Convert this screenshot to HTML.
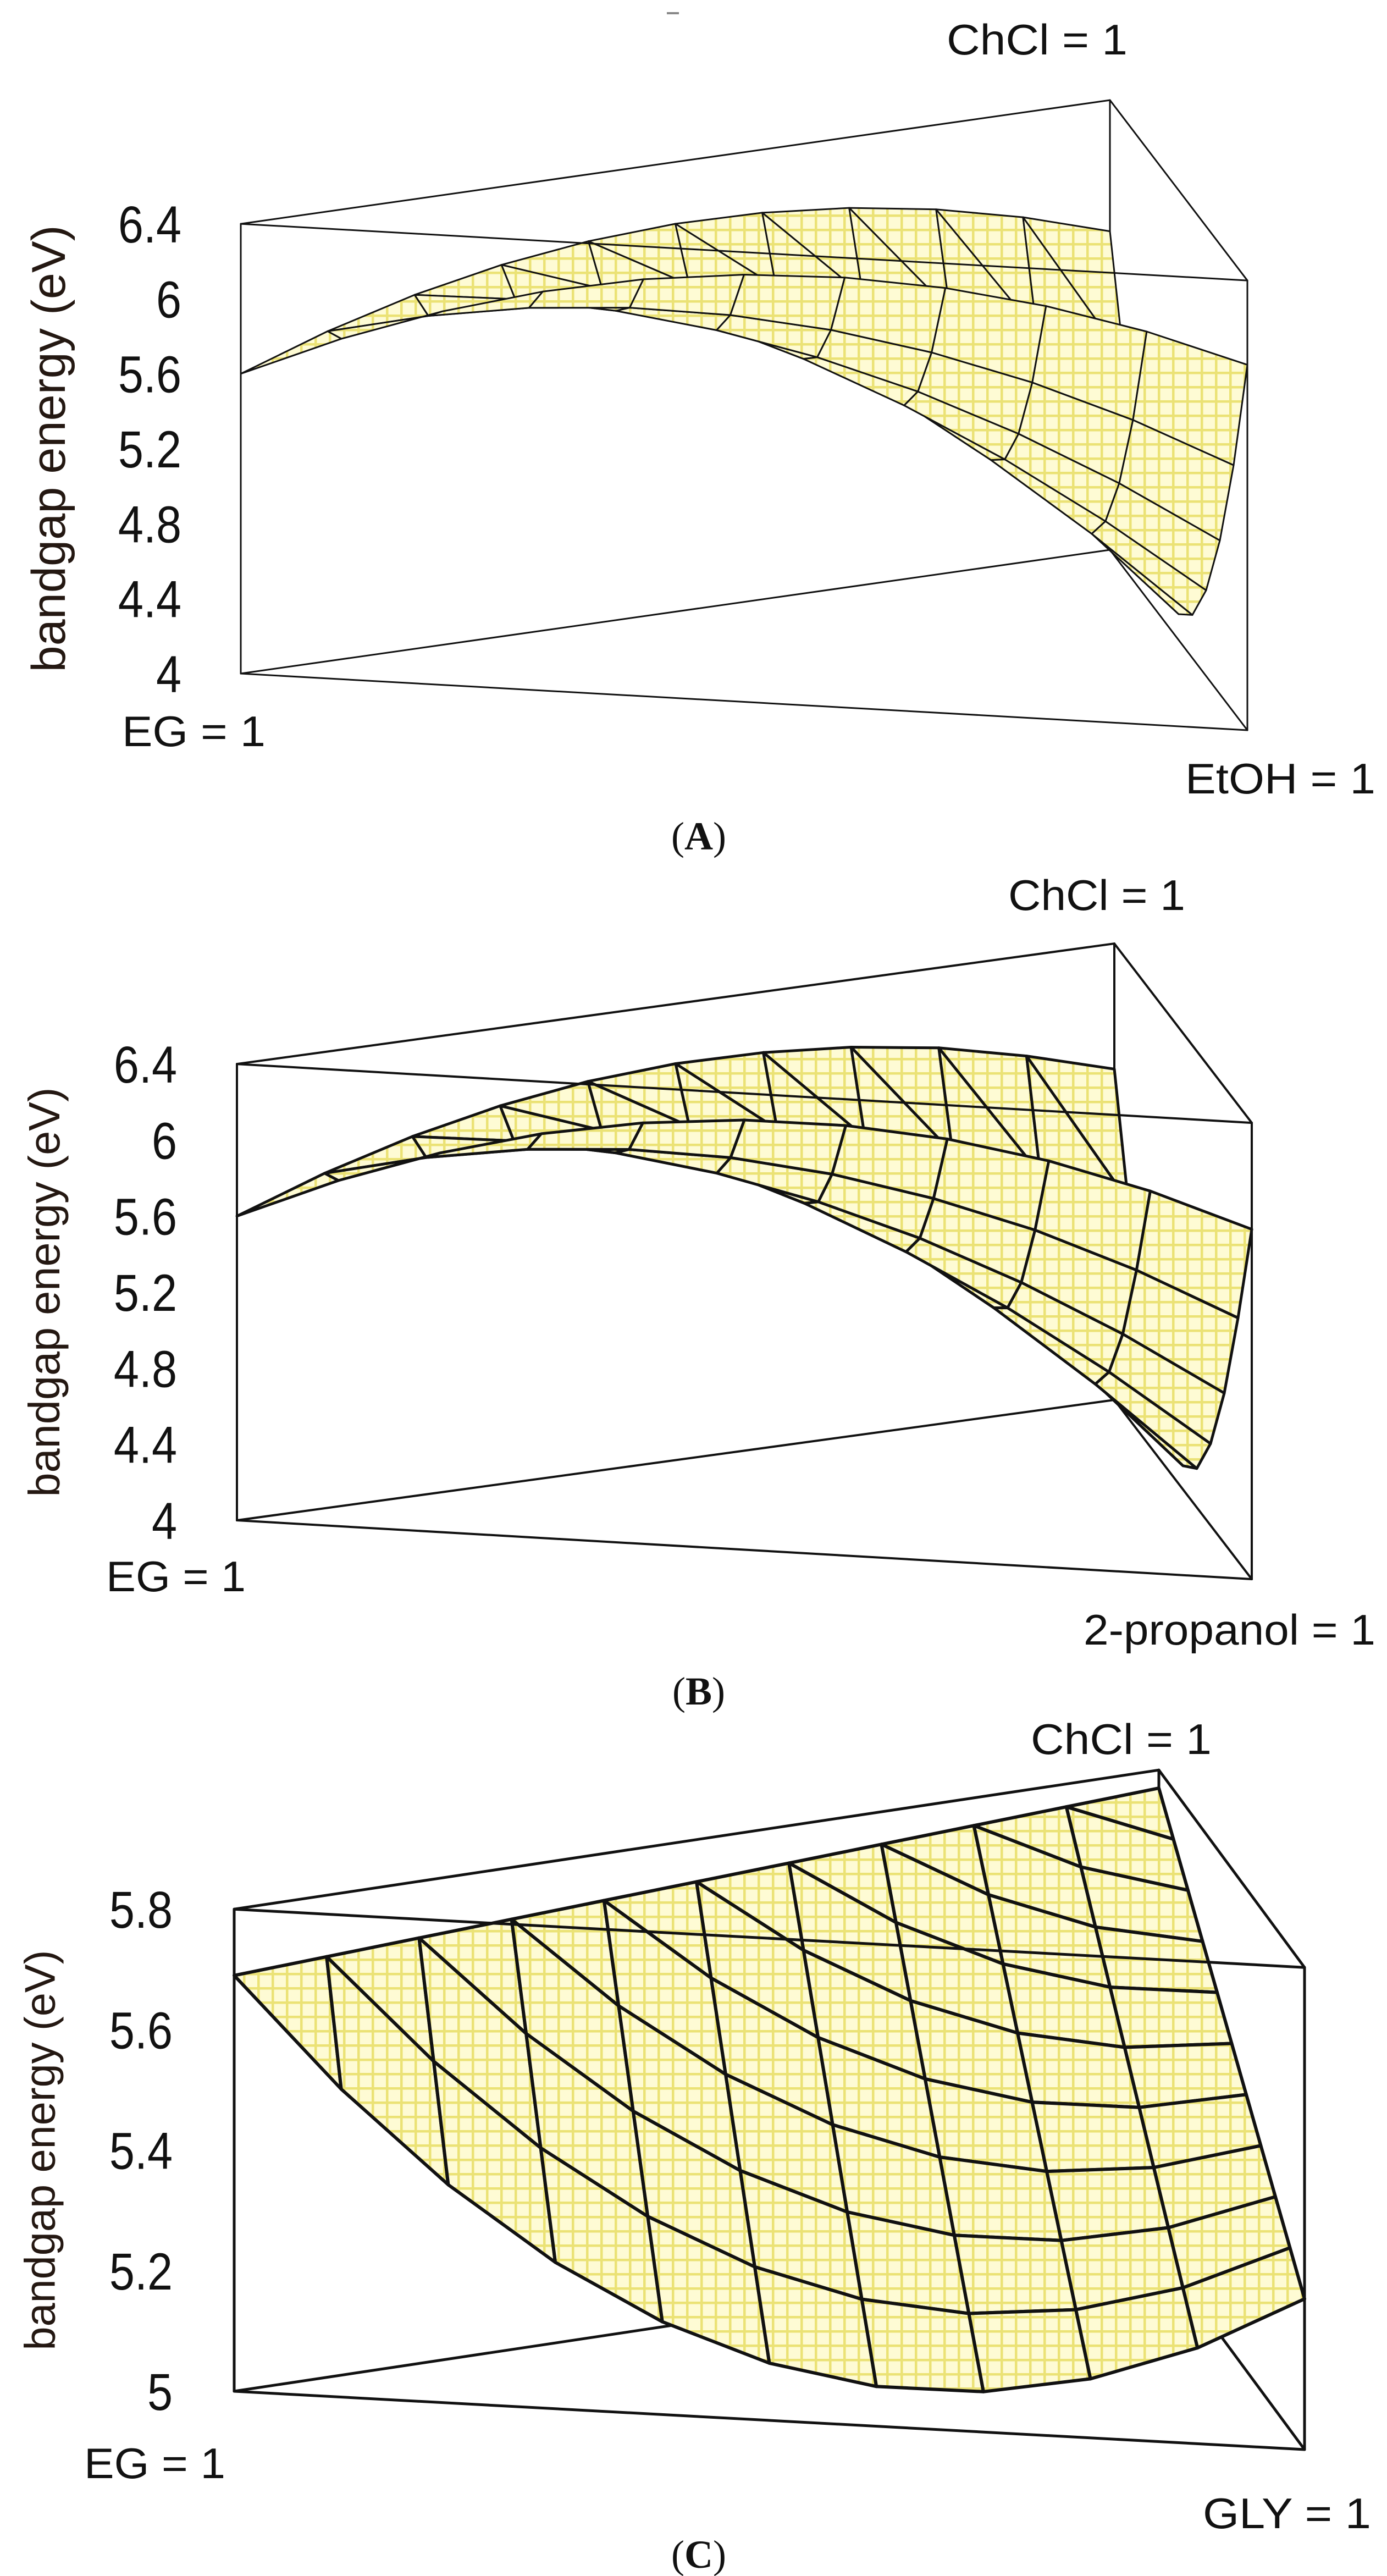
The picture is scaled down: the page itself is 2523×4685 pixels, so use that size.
<!DOCTYPE html>
<html><head><meta charset="utf-8">
<style>
html,body{margin:0;padding:0;background:#fff;}
svg{display:block;}
</style></head>
<body>
<svg id="chart" width="2523" height="4685" viewBox="0 0 2523 4685" xmlns="http://www.w3.org/2000/svg">
<defs>
<pattern id="pat" width="26" height="26" patternUnits="userSpaceOnUse">
<rect width="26" height="26" fill="#fefbd4"/>
<path d="M0 2 H26 M2 0 V26" stroke="#ebe275" stroke-width="5"/>
</pattern>
</defs>
<line x1="1213" y1="24" x2="1235" y2="24" stroke="#888" stroke-width="4"/>
<g id="panels"></g>
</svg>
<script>
// Panel A data: rows by ChCl fraction (0..1 step .1), entries by EtOH fraction (0..1-c step .1)
const ticksA = [4, 4.4, 4.8, 5.2, 5.6, 6, 6.4];
const tickLabelsA = ["4", "4.4", "4.8", "5.2", "5.6", "6", "6.4"];
const zA = [
 [5.600,5.817,5.993,6.129,6.225,6.280,6.295,6.269,6.203,6.097,5.950],
 [5.761,5.873,5.946,5.977,5.968,5.919,5.829,5.699,5.529,5.318],
 [5.889,5.896,5.864,5.791,5.677,5.524,5.329,5.095,4.820],
 [5.983,5.886,5.749,5.572,5.354,5.096,4.796,4.458],
 [6.043,5.842,5.601,5.319,4.996,4.633,4.230],
 [6.070,5.764,5.418,5.032,4.605,4.138],
 [6.063,5.653,5.203,4.712,4.180],
 [6.023,5.508,4.953,4.358],
 [5.949,5.329,4.670],
 [5.841,5.118],
 [5.700]
];
// Panel B data: rows by ChCl fraction, entries by 2-propanol fraction
const ticksB = [4, 4.4, 4.8, 5.2, 5.6, 6, 6.4];
const tickLabelsB = ["4", "4.4", "4.8", "5.2", "5.6", "6", "6.4"];
const zB = [
 [5.600,5.818,5.994,6.126,6.214,6.260,6.262,6.222,6.138,6.010,5.840],
 [5.762,5.876,5.950,5.980,5.968,5.912,5.815,5.680,5.500,5.280],
 [5.892,5.900,5.868,5.792,5.672,5.512,5.310,5.070,4.790],
 [5.990,5.892,5.752,5.570,5.346,5.082,4.776,4.430],
 [6.055,5.850,5.604,5.316,4.988,4.618,4.205],
 [6.085,5.772,5.422,5.030,4.598,4.125],
 [6.080,5.665,5.210,4.715,4.180],
 [6.045,5.520,4.962,4.368],
 [5.978,5.345,4.690],
 [5.872,5.142],
 [5.740]
];
// Panel C data: rows by ChCl fraction, entries by GLY fraction
const ticksC = [5, 5.2, 5.4, 5.6, 5.8];
const tickLabelsC = ["5", "5.2", "5.4", "5.6", "5.8"];
const zC = [
 [5.690,5.511,5.362,5.243,5.154,5.095,5.066,5.067,5.098,5.159,5.250],
 [5.698,5.534,5.400,5.296,5.222,5.178,5.164,5.180,5.226,5.302],
 [5.706,5.557,5.438,5.349,5.290,5.261,5.262,5.293,5.354],
 [5.714,5.580,5.476,5.402,5.358,5.344,5.360,5.406],
 [5.722,5.603,5.514,5.455,5.426,5.427,5.458],
 [5.730,5.626,5.552,5.508,5.494,5.510],
 [5.738,5.649,5.590,5.561,5.562],
 [5.746,5.672,5.628,5.614],
 [5.754,5.695,5.666],
 [5.762,5.718],
 [5.770]
];

const NS = "http://www.w3.org/2000/svg";
const root = document.getElementById('panels');

const panels = [
 {id:'a', z:zA, ticks:ticksA, tl:tickLabelsA, eg:[438,1225], r:[2269,1328], ch:[2019,1000], zmin:4, zmax:6.4, k:340.8, sw:3, bw:3,
  tickX:330, titleX:88, titleLen:813, titleFs:86,
  ch_lbl:{t:'ChCl = 1', x:1722, y:99, len:329}, eg_lbl:{t:'EG = 1', x:222, y:1357, len:261}, r_lbl:{t:'EtOH = 1', x:2156, y:1443, len:346},
  cap:{t:'A', y:1545}},
 {id:'b', z:zB, ticks:ticksB, tl:tickLabelsB, eg:[431,2765], r:[2277,2872], ch:[2027,2546], zmin:4, zmax:6.4, k:345.8, sw:5, bw:4,
  tickX:322, titleX:80, titleLen:745, titleFs:80,
  ch_lbl:{t:'ChCl = 1', x:1834, y:1655, len:322}, eg_lbl:{t:'EG = 1', x:193, y:2894, len:254}, r_lbl:{t:'2-propanol = 1', x:1971, y:2991, len:531},
  cap:{t:'B', y:3100}},
 {id:'c', z:zC, ticks:ticksC, tl:tickLabelsC, eg:[426,4349], r:[2373,4455], ch:[2108,4096], zmin:5, zmax:5.8, k:1096, sw:6, bw:5,
  tickX:314, titleX:72, titleLen:728, titleFs:78,
  ch_lbl:{t:'ChCl = 1', x:1875, y:3190, len:329}, eg_lbl:{t:'EG = 1', x:153, y:4507, len:257}, r_lbl:{t:'GLY = 1', x:2188, y:4598, len:306},
  cap:{t:'C', y:4670}}
];

function mk(tag, attrs, parent){
  const el = document.createElementNS(NS, tag);
  for (const key in attrs) el.setAttribute(key, attrs[key]);
  parent.appendChild(el);
  return el;
}
function proj(P, a, b, c, z){
  const x = a*P.eg[0] + b*P.r[0] + c*P.ch[0];
  const y = a*P.eg[1] + b*P.r[1] + c*P.ch[1] - (z - P.zmin)*P.k;
  return [x, y];
}
function baseY(P, a, b, c){ return a*P.eg[1] + b*P.r[1] + c*P.ch[1]; }
function zy(P, z){ return P.eg[1] - (z - P.zmin)*P.k; }

panels.forEach(P => {
  const g = mk('g', {}, root);
  
  
  const H = (P.zmax - P.zmin)*P.k;
  const egT = [P.eg[0], P.eg[1]-H], rT = [P.r[0], P.r[1]-H], chT = [P.ch[0], P.ch[1]-H];
  const line = (p, q, name, w) => {
    const l = mk('line', {x1:p[0], y1:p[1], x2:q[0], y2:q[1], stroke:'#111', 'stroke-width':w, 'stroke-linecap':'round'}, g);
    
    
  };
  line(P.eg, P.r, 'box-bottom-front-edge', P.bw);
  line(P.eg, P.ch, 'box-bottom-back-edge', P.bw);
  line(P.ch, P.r, 'box-bottom-right-edge', P.bw);
  line(P.ch, chT, 'box-back-vertical', P.bw);

  const cells = [];
  const Z = P.z;
  const pt = (i, j) => { const c=i/10, b=j/10, a=1-c-b; return {p:proj(P,a,b,c,Z[i][j]), by:baseY(P,a,b,c)}; };
  for (let i=0; i<10; i++){
    for (let j=0; j<=9-i; j++){
      let pts;
      if (j === 0) pts = [pt(i,0), pt(i,1), pt(i+1,0)];
      else pts = [pt(i,j), pt(i,j+1), pt(i+1,j), pt(i+1,j-1)];
      const depth = pts.reduce((s,q)=>s+q.by,0)/pts.length;
      cells.push({pts, depth, i, j});
    }
  }
  cells.sort((u,v)=>u.depth - v.depth);
  const sg = mk('g', {}, g);
  
  
  cells.forEach(cell => {
    const d = cell.pts.map(q => q.p[0].toFixed(1)+','+q.p[1].toFixed(1)).join(' ');
    const poly = mk('polygon', {points:d, fill:'url(#pat)', stroke:'#111', 'stroke-width':P.sw, 'stroke-linejoin':'round'}, sg);
    
    
  });

  line(egT, chT, 'box-top-back-edge', P.bw);
  line(chT, rT, 'box-top-right-edge', P.bw);
  line(egT, rT, 'box-top-front-edge', P.bw);
  line(P.eg, egT, 'box-left-vertical', P.bw);
  line(P.r, rT, 'box-right-vertical', P.bw);

  P.ticks.forEach((t, idx) => {
    const yy = zy(P,t)+34;
    const tx = mk('text', {x:0, y:0, 'text-anchor':'end', 'font-family':'Liberation Sans, sans-serif', 'font-size':90, fill:'#111', transform:'translate('+P.tickX+' '+yy.toFixed(1)+') scale(0.92 1.05)'}, g);
    
    
    tx.textContent = P.tl[idx];
  });
  const cy = (zy(P,P.zmax) + P.eg[1]) / 2;
  const tt = mk('text', {x:P.titleX, y:cy, 'text-anchor':'middle', 'font-family':'Liberation Sans, sans-serif', 'font-size':P.titleFs, fill:'#241812', transform:'rotate(-90 '+P.titleX+' '+cy+')', dy:'0.35em', textLength:P.titleLen, lengthAdjust:'spacingAndGlyphs'}, g);
  
  
  tt.textContent = 'bandgap energy (eV)';
  [[P.ch_lbl,'corner-label-chcl'],[P.eg_lbl,'corner-label-eg'],[P.r_lbl,'corner-label-third-component']].forEach(([L,name]) => {
    const t = mk('text', {x:L.x, y:L.y, 'font-family':'Liberation Sans, sans-serif', 'font-size':78, fill:'#111', textLength:L.len, lengthAdjust:'spacingAndGlyphs'}, g);
    
    
    t.textContent = L.t;
  });
  const cap = mk('text', {x:1271, y:P.cap.y, 'text-anchor':'middle', 'font-family':'Liberation Serif, serif', 'font-size':72, fill:'#111'}, g);
  
  
  cap.appendChild(document.createTextNode('('));
  const bt = mk('tspan', {'font-weight':'bold'}, cap);
  bt.textContent = P.cap.t;
  cap.appendChild(document.createTextNode(')'));
});
</script>
</body></html>
